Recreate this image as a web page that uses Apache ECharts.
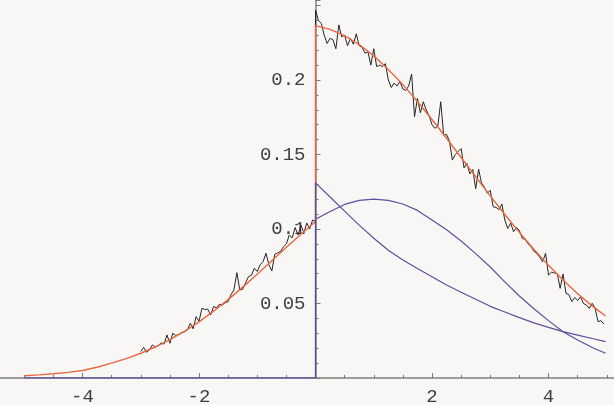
<!DOCTYPE html>
<html>
<head>
<meta charset="utf-8">
<script src="https://cdn.jsdelivr.net/npm/echarts@6/dist/echarts.min.js"></script>
<style>
html,body{margin:0;padding:0;background:#f8f7f5;}
#c{width:614px;height:405px;}
</style>
</head>
<body>
<div id="c"></div>
<script>
// ---- data ----
const xTicks = [-4, -2, 2, 4];
const yTicks = [0.05, 0.1, 0.15, 0.2];

// noisy black data, sampled every 0.05
const blackNegStart = -3.0, blackPosStart = 0.0, blackStep = 0.05;
const blackNegY = [
  0.0177,0.0205,0.0172,0.0190,0.0222,0.0208,0.0218,0.0236,0.0228,0.0289,
  0.0233,0.0300,0.0285,0.0292,0.0305,0.0310,0.0322,0.0367,0.0330,0.0412,
  0.0380,0.0467,0.0460,0.0462,0.0423,0.0480,0.0470,0.0495,0.0490,0.0505,
  0.0512,0.0560,0.0591,0.0707,0.0591,0.0595,0.0640,0.0680,0.0690,0.0736,
  0.0715,0.0760,0.0781,0.0837,0.0760,0.0718,0.0830,0.0840,0.0850,0.0881,
  0.0900,0.0960,0.0940,0.1010,0.0960,0.1025,0.0975,0.1040,0.1000,0.1060,
  0.1050
];
const blackPosY = [
  0.2470,0.2400,0.2380,0.2300,0.2245,0.2280,0.2270,0.2210,0.2370,0.2290,
  0.2300,0.2230,0.2280,0.2240,0.2310,0.2230,0.2220,0.2180,0.2190,0.2100,
  0.2210,0.2090,0.2100,0.2090,0.2110,0.2000,0.1950,0.1980,0.1960,0.1990,
  0.1940,0.1930,0.1960,0.2040,0.1754,0.1877,0.1780,0.1854,0.1800,0.1760,
  0.1700,0.1676,0.1690,0.1854,0.1630,0.1635,0.1590,0.1463,0.1500,0.1520,
  0.1540,0.1410,0.1440,0.1370,0.1400,0.1270,0.1401,0.1310,0.1280,0.1240,
  0.1260,0.1149,0.1145,0.1130,0.1168,0.1060,0.1004,0.1040,0.0982,0.1010,
  0.0990,0.0937,0.0930,0.0900,0.0882,0.0850,0.0835,0.0810,0.0780,0.0837,
  0.0691,0.0710,0.0705,0.0700,0.0602,0.0698,0.0568,0.0560,0.0513,0.0540,
  0.0520,0.0545,0.0500,0.0490,0.0467,0.0501,0.0470,0.0378,0.0385,0.0362
];

// orange fitted curve
const orangeNegX = [-5,-4.75,-4.5,-4.25,-4,-3.75,-3.5,-3.25,-3,-2.75,-2.5,-2.25,-2,-1.75,-1.5,-1.25,-1,-0.75,-0.5,-0.25,0];
const orangeNegY = [0.0015,0.0021,0.0029,0.0038,0.0050,0.0072,0.0100,0.0130,0.0166,0.0208,0.0257,0.0313,0.0377,0.0449,0.0526,0.0610,0.0697,0.0787,0.0877,0.0965,0.1050];
const orangePosX = [0,0.25,0.5,0.75,1,1.25,1.5,1.75,2,2.25,2.5,2.75,3,3.25,3.5,3.75,4,4.25,4.5,4.75,4.98];
const orangePosY = [0.2365,0.2340,0.2298,0.2238,0.2162,0.2071,0.1969,0.1856,0.1735,0.1609,0.1480,0.1351,0.1222,0.1097,0.0977,0.0863,0.0756,0.0657,0.0566,0.0484,0.0416];

// purple curves (zero for x<0)
const purpleX = [-5,0,0,0.25,0.5,0.75,1,1.25,1.5,1.75,2,2.25,2.5,2.75,3,3.25,3.5,3.75,4,4.25,4.5,4.75,4.98];
const purpleAY = [0,0,0.1310,0.1215,0.1120,0.1026,0.0938,0.0858,0.0792,0.0735,0.0680,0.0624,0.0576,0.0528,0.0481,0.0443,0.0405,0.0370,0.0340,0.0311,0.0288,0.0265,0.0244];
const purpleBY = [0,0,0.1065,0.1118,0.1165,0.1192,0.1200,0.1192,0.1168,0.1125,0.1060,0.0995,0.0920,0.0835,0.0745,0.0645,0.0550,0.0465,0.0385,0.0311,0.0255,0.0205,0.0166];

// ---- build series ----
const blackData = [];
blackNegY.forEach((v,i)=>blackData.push([+(blackNegStart+i*blackStep).toFixed(2), v]));
blackPosY.forEach((v,i)=>blackData.push([+(blackPosStart+i*blackStep).toFixed(2), v]));
const orangeData = orangeNegX.map((x,i)=>[x, orangeNegY[i]]).concat(orangePosX.map((x,i)=>[x, orangePosY[i]]));
const purpleAData = purpleX.map((x,i)=>[x, purpleAY[i]]);
const purpleBData = purpleX.map((x,i)=>[x, purpleBY[i]]);

const labelFont = {fontFamily:'Liberation Mono', fontSize:19, color:'#404040'};
const gridLeft = -34, gridRight = -51, xMin = -6, xMax = 6;
// distance from grid left edge to x = 0
const zeroOffset = (0 - xMin) / (xMax - xMin) * (614 - gridLeft - gridRight);

const chart = echarts.init(document.getElementById('c'), null, {renderer:'canvas'});
chart.setOption({
  backgroundColor:'#f8f7f5',
  animation:false,
  grid:{left:gridLeft, right:gridRight, top:0, bottom:27, containLabel:false, outerBoundsMode:'none'},
  xAxis:{
    type:'value', min:xMin, max:xMax, interval:2,
    axisLine:{show:true, onZero:true, lineStyle:{color:'#808080', width:1.5}},
    axisTick:{show:true, inside:true, length:5, lineStyle:{color:'#777'}},
    minorTick:{show:true, splitNumber:4, length:3, lineStyle:{color:'#777'}},
    splitLine:{show:false},
    axisLabel:Object.assign({margin:9, formatter:v=>xTicks.includes(v)?String(v):''}, labelFont)
  },
  yAxis:{
    type:'value', min:0, max:0.2537, interval:0.05, position:'left', offset:-zeroOffset,
    axisLine:{show:true, onZero:false, lineStyle:{color:'#808080', width:1.5}},
    axisTick:{show:true, inside:true, length:5, lineStyle:{color:'#777'}},
    minorTick:{show:true, splitNumber:5, length:3, lineStyle:{color:'#777'}},
    splitLine:{show:false},
    axisLabel:Object.assign({margin:10, showMaxLabel:false, formatter:v=>{const m=yTicks.find(t=>Math.abs(t-v)<1e-9);return m===undefined?'':String(m);}}, labelFont)
  },
  series:[
    {type:'line', data:blackData, showSymbol:false, symbol:'none', lineStyle:{color:'#262626', width:1}, z:2},
    {type:'line', data:orangeData, showSymbol:false, symbol:'none', lineStyle:{color:'#e8683f', width:1.4}, z:3},
    {type:'line', data:purpleAData, showSymbol:false, symbol:'none', lineStyle:{color:'#5a50a0', width:1.2}, z:4},
    {type:'line', data:purpleBData, showSymbol:false, symbol:'none', lineStyle:{color:'#5a50a0', width:1.2}, z:4}
  ]
});
</script>
</body>
</html>
